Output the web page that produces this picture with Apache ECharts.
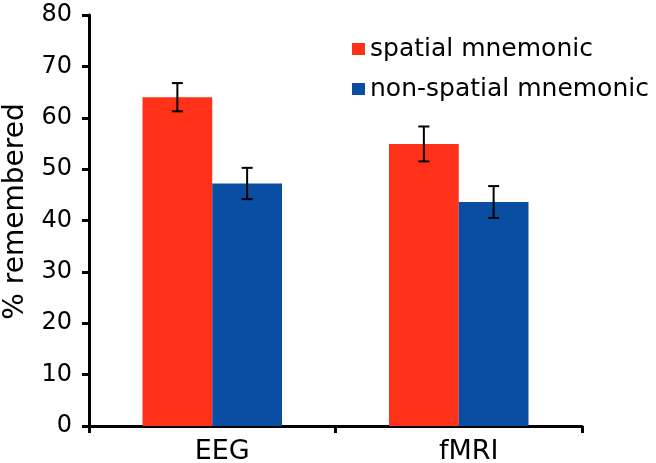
<!DOCTYPE html>
<html><head><meta charset="utf-8">
<script src="https://cdn.jsdelivr.net/npm/echarts@6/dist/echarts.min.js"></script>
<style>html,body{margin:0;padding:0;background:#fff}#c{width:656px;height:463px}</style>
</head><body><div id="c"></div>
<script>
var categories = ['EEG', 'fMRI'];
var seriesNames = ['spatial mnemonic', 'non-spatial mnemonic'];
var spatial = [64.0, 54.9];
var nonSpatial = [47.2, 43.6];
var spatialErr = [2.75, 3.4];
var nonSpatialErr = [3.05, 3.1];
var yTicks = [0, 10, 20, 30, 40, 50, 60, 70, 80];

var RED = '#ff3219', BLUE = '#0a4ea3';
var FONT = 'DejaVu Sans, Verdana, sans-serif';
var CAT_GAP = 0.434;

function errData(vals, errs) {
  return vals.map(function (v, i) { return [i, v - errs[i], v + errs[i]]; });
}
function errSeries(vals, errs, side) {
  return {
    type: 'custom', z: 10, silent: true,
    data: errData(vals, errs),
    encode: { x: 0, y: [1, 2] },
    renderItem: function (params, api) {
      var i = api.value(0);
      var lo = api.coord([i, api.value(1)]);
      var hi = api.coord([i, api.value(2)]);
      var catW = api.size([1, 0])[0];
      var bw = catW * (1 - CAT_GAP) / 2;
      var x = lo[0] + side * bw / 2;
      var cap = 5.5;
      var st = { stroke: '#000', lineWidth: 2 };
      return { type: 'group', children: [
        { type: 'line', shape: { x1: x, y1: lo[1], x2: x, y2: hi[1] }, style: st },
        { type: 'line', shape: { x1: x - cap, y1: lo[1], x2: x + cap, y2: lo[1] }, style: st },
        { type: 'line', shape: { x1: x - cap, y1: hi[1], x2: x + cap, y2: hi[1] }, style: st }
      ]};
    }
  };
}

var chart = echarts.init(document.getElementById('c'), null, { renderer: 'canvas' });
chart.setOption({
  animation: false,
  backgroundColor: '#fff',
  textStyle: { fontFamily: FONT },
  grid: { left: 89, right: 74, top: 15, bottom: 37, containLabel: false, outerBoundsMode: 'none' },
  legend: {
    orient: 'vertical', left: 352, top: 34, padding: 0,
    icon: 'rect', itemWidth: 13, itemHeight: 12, itemGap: 10,
    data: seriesNames,
    textStyle: { fontSize: 25, color: '#000', fontFamily: FONT, lineHeight: 30 }
  },
  xAxis: {
    type: 'category', data: categories,
    axisLine: { lineStyle: { color: '#000', width: 3 } },
    axisTick: { show: true, length: 7, lineStyle: { color: '#000', width: 3 } },
    axisLabel: { color: '#000', fontSize: 27, margin: 12, fontFamily: FONT, padding: [0, 0, 0, 20] },
    splitLine: { show: false }
  },
  yAxis: {
    type: 'value', min: 0, max: 80, interval: 10,
    name: '% remembered', nameLocation: 'middle', nameGap: 59, nameRotate: 90,
    nameTextStyle: { fontSize: 28, color: '#000', fontFamily: FONT, padding: [0, 0, 0, 18] },
    axisLine: { show: true, lineStyle: { color: '#000', width: 3 } },
    axisTick: { show: true, length: 7, lineStyle: { color: '#000', width: 3 } },
    axisLabel: { color: '#000', fontSize: 24, margin: 17, fontFamily: FONT,
      formatter: function (v) { return yTicks.indexOf(v) >= 0 ? String(v) : ''; } },
    splitLine: { show: false }
  },
  series: [
    { name: seriesNames[0], type: 'bar', data: spatial, itemStyle: { color: RED },
      barGap: '0%', barCategoryGap: (CAT_GAP * 100) + '%' },
    { name: seriesNames[1], type: 'bar', data: nonSpatial, itemStyle: { color: BLUE },
      barGap: '0%', barCategoryGap: (CAT_GAP * 100) + '%' },
    errSeries(spatial, spatialErr, -1),
    errSeries(nonSpatial, nonSpatialErr, 1)
  ]
});
</script></body></html>
